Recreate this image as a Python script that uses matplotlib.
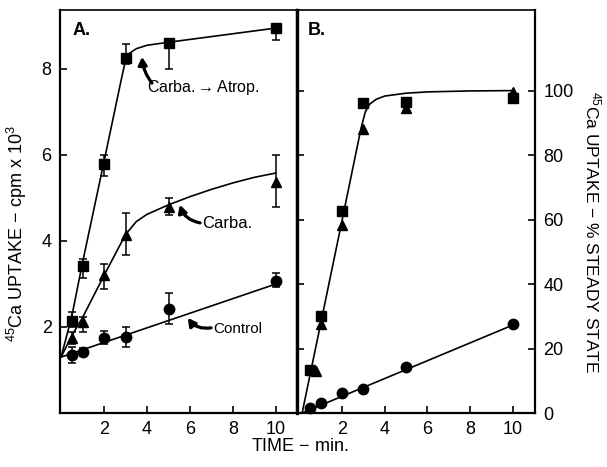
import matplotlib
matplotlib.use("Agg")
import matplotlib.pyplot as plt

plt.rcParams['font.family'] = ['Liberation Sans', 'DejaVu Sans']
plt.rcParams['mathtext.fontset'] = 'custom'
plt.rcParams['mathtext.rm'] = 'Liberation Sans'
plt.rcParams['mathtext.it'] = 'Liberation Sans:italic'
plt.rcParams['mathtext.bf'] = 'Liberation Sans:bold'

# ---- panel A data (cpm x 10^3) ----
time_a = [0.5, 1, 2, 3, 5, 10]
atrop_a = [2.14, 3.42, 5.8, 8.26, 8.6, 8.95]
atrop_a_lo = [0.15, 0.28, 0.3, 0.15, 0.6, 0.28]
atrop_a_hi = [0.21, 0.16, 0.2, 0.32, 0.05, 0.07]
carba_a = [1.74, 2.12, 3.2, 4.15, 4.8, 5.37]
carba_a_lo = [0.14, 0.24, 0.32, 0.47, 0.2, 0.57]
carba_a_hi = [0.15, 0.11, 0.26, 0.51, 0.2, 0.63]
control_a = [1.35, 1.42, 1.74, 1.77, 2.42, 3.07]
control_a_lo = [0.19, 0.1, 0.14, 0.24, 0.35, 0.14]
control_a_hi = [0.19, 0.1, 0.16, 0.23, 0.37, 0.19]

# hand-drawn curves
atrop_fit_t = [0, 0.5, 1, 2, 2.8, 3, 3.2, 3.5, 4, 5, 10]
atrop_fit = [1.3, 2.25, 3.5, 5.85, 7.75, 8.2, 8.37, 8.47, 8.55, 8.62, 8.95]
carba_fit_t = [0, 0.5, 1, 2, 3, 3.5, 4, 5, 6, 7, 8, 9, 10]
carba_fit = [1.3, 1.8, 2.22, 3.2, 4.15, 4.45, 4.62, 4.84, 5.03, 5.2, 5.35, 5.48, 5.58]
control_fit_t = [0, 10]
control_fit = [1.3, 3.0]

# ---- panel B data (% steady state) ----
time_b = [0.5, 1, 2, 3, 5, 10]
time_b_tri = [0.8, 1, 2, 3, 5, 10]
atrop_b = [13.4, 30.1, 62.7, 96.0, 96.5, 97.8]
carba_b = [13.0, 27.6, 58.4, 88.2, 94.5, 99.5]
control_b = [1.5, 3.0, 6.1, 7.4, 14.2, 27.6]

fit_b_t = [0.14, 1, 2, 2.9, 3.1, 3.3, 3.6, 4, 5, 6, 8, 10]
fit_b = [0, 27.5, 59.5, 88.5, 93.5, 95.8, 97.3, 98.3, 99.2, 99.6, 99.9, 100]
control_fit_b_t = [0.14, 10]
control_fit_b = [0, 27.3]

fig = plt.figure(figsize=(6.07, 4.67), dpi=100)
ax_a = fig.add_axes([60 / 607, 54 / 467, 237 / 607, 403 / 467])
ax_b = fig.add_axes([297 / 607, 54 / 467, 238 / 607, 403 / 467])

mk = dict(color='k', markeredgecolor='k', linestyle='none', clip_on=False, zorder=3)
eb = dict(fmt='none', ecolor='k', elinewidth=1.1, capsize=3, capthick=1.1, zorder=2)

# panel A
ax_a.plot(atrop_fit_t, atrop_fit, color='k', lw=1.2)
ax_a.plot(carba_fit_t, carba_fit, color='k', lw=1.2)
ax_a.plot(control_fit_t, control_fit, color='k', lw=1.2)
ax_a.errorbar(time_a, atrop_a, yerr=[atrop_a_lo, atrop_a_hi], **eb)
ax_a.errorbar(time_a, carba_a, yerr=[carba_a_lo, carba_a_hi], **eb)
ax_a.errorbar(time_a, control_a, yerr=[control_a_lo, control_a_hi], **eb)
ax_a.plot(time_a, atrop_a, marker='s', markersize=6.5, **mk)
ax_a.plot(time_a, carba_a, marker='^', markersize=7.5, **mk)
ax_a.plot(time_a, control_a, marker='o', markersize=7.5, **mk)

ax_a.set_xlim(-0.05, 10.98)
ax_a.set_ylim(0, 9.37)
ax_a.set_xticks([2, 4, 6, 8, 10])
ax_a.set_yticks([2, 4, 6, 8])
ax_a.tick_params(direction='in', length=5, width=1.2, labelsize=13, pad=6,
                 right=False, top=False)

arrow = dict(arrowstyle='-|>,head_width=0.25,head_length=0.45', lw=2.3, color='k',
             shrinkA=0, shrinkB=0)
ax_a.annotate('', xy=(3.77, 8.28), xytext=(4.23, 7.67),
              arrowprops=dict(connectionstyle='arc3,rad=-0.15', **arrow))
ax_a.text(4.0, 7.56, r'Carba.$\rightarrow$Atrop.', fontsize=11.5, va='center', ha='left')
ax_a.annotate('', xy=(5.53, 4.84), xytext=(6.47, 4.42),
              arrowprops=dict(connectionstyle='arc3,rad=-0.3', **arrow))
ax_a.text(6.56, 4.40, 'Carba.', fontsize=12, va='center', ha='left')
ax_a.annotate('', xy=(5.9, 2.21), xytext=(6.98, 1.98),
              arrowprops=dict(connectionstyle='arc3,rad=-0.3', **arrow))
ax_a.text(7.07, 1.95, 'Control', fontsize=11, va='center', ha='left')
ax_a.text(0.055, 0.95, 'A.', transform=ax_a.transAxes, fontsize=13,
          fontweight='bold', va='center', ha='left')

# panel B
ax_b.plot(fit_b_t, fit_b, color='k', lw=1.2)
ax_b.plot(control_fit_b_t, control_fit_b, color='k', lw=1.2)
ax_b.plot(time_b, atrop_b, marker='s', markersize=6.5, **mk)
ax_b.plot(time_b_tri, carba_b, marker='^', markersize=7.5, **mk)
ax_b.plot(time_b, control_b, marker='o', markersize=7.5, **mk)

ax_b.set_xlim(-0.1, 11.03)
ax_b.set_ylim(0, 125)
ax_b.set_xticks([2, 4, 6, 8, 10])
ax_b.set_yticks([0, 20, 40, 60, 80, 100])
ax_b.yaxis.tick_right()
ax_b.tick_params(direction='in', length=5, width=1.2, labelsize=13, pad=6,
                 left=True, right=True, labelleft=False, labelright=True, top=False)
ax_b.text(0.045, 0.95, 'B.', transform=ax_b.transAxes, fontsize=13,
          fontweight='bold', va='center', ha='left')

for ax in (ax_a, ax_b):
    for side in ('left', 'bottom', 'right'):
        ax.spines[side].set_linewidth(1.6)
    ax.spines['top'].set_linewidth(1.2)
ax_b.spines['left'].set_linewidth(2.4)

fig.text(0.028, 0.5, r'$^{45}$Ca UPTAKE $-$ cpm x 10$^{3}$', rotation=90,
         fontsize=13, ha='center', va='center')
fig.text(0.977, 0.503, r'$^{45}$Ca UPTAKE $-$ % STEADY STATE', rotation=-90,
         fontsize=12.5, ha='center', va='center')
fig.text(0.494, 0.043, r'TIME $-$ min.', fontsize=13, ha='center', va='center')

fig.savefig('out.png', dpi=100)
